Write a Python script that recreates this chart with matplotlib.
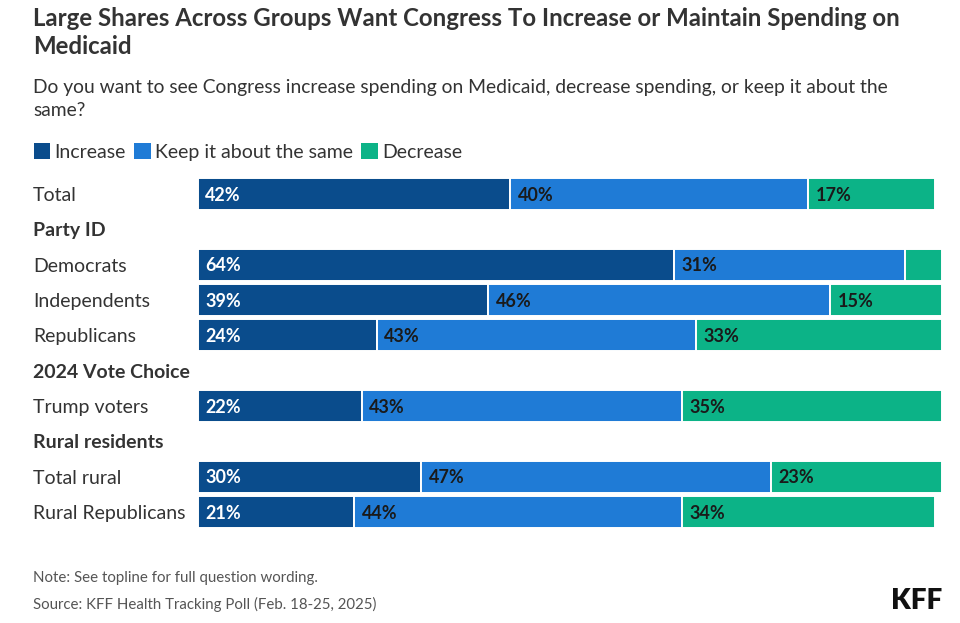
import matplotlib
matplotlib.use("Agg")
import matplotlib.pyplot as plt
from matplotlib.patches import Patch

plt.rcParams['font.family'] = ['Lato', 'DejaVu Sans']

rows = ["Total", "Party ID", "Democrats", "Independents", "Republicans",
        "2024 Vote Choice", "Trump voters", "Rural residents", "Total rural", "Rural Republicans"]
is_header = [False, True, False, False, False, True, False, True, False, False]
increase = [42, None, 64, 39, 24, None, 22, None, 30, 21]
same     = [40, None, 31, 46, 43, None, 43, None, 47, 44]
decrease = [17, None, 5, 15, 33, None, 35, None, 23, 34]

series = [("Increase", increase, "#0a4c8c", "white"),
          ("Keep it about the same", same, "#1f7bd6", "#1a1a1a"),
          ("Decrease", decrease, "#0cb387", "#1a1a1a")]

W, H = 960, 623
fig = plt.figure(figsize=(W / 100, H / 100), dpi=100)
fig.patch.set_facecolor("white")

left_px, right_px = 198, 942
top_px, bot_px = 176.3, 529.7
ax = fig.add_axes([left_px / W, 1 - bot_px / H, (right_px - left_px) / W, (bot_px - top_px) / H])
ax.set_xlim(0, 100)
ax.set_ylim(len(rows) - 0.5, -0.5)
ax.axis("off")

for i, name in enumerate(rows):
    if is_header[i]:
        continue
    start = 0
    for sname, vals, col, tcol in series:
        v = vals[i]
        ax.barh(i, v, left=start, height=0.9, color=col, edgecolor="white", linewidth=1.4)
        if v >= 10:
            ax.text(start + 1.0, i + 0.03, f"{v}%", va="center", ha="left", fontsize=13,
                    color=tcol, fontweight="bold")
        start += v

# row labels
for i, name in enumerate(rows):
    y = 1 - (top_px + 1.5 + (i + 0.5) * (bot_px - top_px) / len(rows)) / H
    fig.text(33 / W, y, name, ha="left", va="center", fontsize=14,
             color="#333333", fontweight="bold" if is_header[i] else "normal")

# title & subtitle
fig.text(33 / W, 1 - 19 / H, "Large Shares Across Groups Want Congress To Increase or Maintain Spending on",
         ha="left", va="center", fontsize=17.3, fontweight="bold", color="#333333")
fig.text(33 / W, 1 - 47 / H, "Medicaid", ha="left", va="center", fontsize=17.3,
         fontweight="bold", color="#333333")
fig.text(33 / W, 1 - 88 / H,
         "Do you want to see Congress increase spending on Medicaid, decrease spending, or keep it about the",
         ha="left", va="center", fontsize=13.9, color="#333333")
fig.text(33 / W, 1 - 111 / H, "same?", ha="left", va="center", fontsize=13.9, color="#333333")

# legend
handles = [Patch(facecolor=c, edgecolor="none", label=n) for n, _, c, _ in series]
leg = fig.legend(handles=handles, loc="center left", bbox_to_anchor=(26 / W, 1 - 152 / H),
                 ncol=3, frameon=False, handlelength=0.85, handleheight=0.85,
                 handletextpad=0.2, columnspacing=0.45, fontsize=14, borderaxespad=0)
for t in leg.get_texts():
    t.set_color("#333333")

# footer
fig.text(33 / W, 1 - 578 / H, "Note: See topline for full question wording.",
         ha="left", va="center", fontsize=10.8, color="#555555")
fig.text(33 / W, 1 - 604 / H, "Source: KFF Health Tracking Poll (Feb. 18-25, 2025)",
         ha="left", va="center", fontsize=10.8, color="#555555")
fig.text(942 / W, 1 - 601 / H, "KFF", ha="right", va="center", fontsize=20,
         fontweight="heavy", color="#111111")

fig.savefig("out.png", dpi=100, facecolor="white")
